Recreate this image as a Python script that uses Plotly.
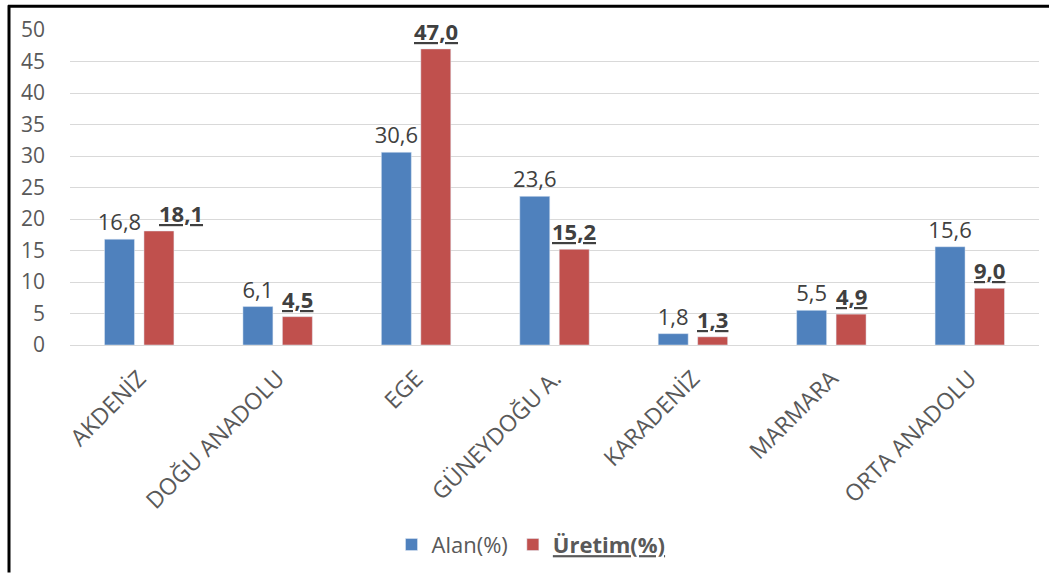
import plotly.graph_objects as go

categories = ["AKDENİZ", "DOĞU ANADOLU", "EGE", "GÜNEYDOĞU A.", "KARADENİZ", "MARMARA", "ORTA ANADOLU"]
alan = [16.8, 6.1, 30.6, 23.6, 1.8, 5.5, 15.6]
uretim = [18.1, 4.5, 47.0, 15.2, 1.3, 4.9, 9.0]
y_ticks = [0, 5, 10, 15, 20, 25, 30, 35, 40, 45, 50]

# extra horizontal nudge (px) of the Üretim labels, as in the reference
uretim_label_nudge = [22, 0, 0, 0, 0, 0, 0]

def fmt(v):
    return f"{v:.1f}".replace(".", ",")

W, H = 1049, 576
ml, mr, mt, mb = 70, 10, 30, 229
pw, ph = W - ml - mr, H - mt - mb
bargap, bargroupgap = 0.43, 0.24
cat_w = pw / len(categories)
half_slot = cat_w * (1 - bargap) / 4  # offset of each bar center from category center

fig = go.Figure()
fig.add_trace(go.Bar(
    name="Alan(%)", x=categories, y=alan, marker_color="#4F81BD",
    text=[fmt(v) for v in alan], textposition="outside", constraintext="none",
    textfont=dict(size=22, color="#404040", family="Open Sans"),
    cliponaxis=False,
))
fig.add_trace(go.Bar(
    name="<b><u>Üretim(%)</u></b>", x=categories, y=uretim, marker_color="#C0504D",
    cliponaxis=False,
))

annotations = []
for c, v, n in zip(categories, uretim, uretim_label_nudge):
    annotations.append(dict(
        x=c, y=v, xref="x", yref="y", text=f"<b><u>{fmt(v)}</u></b>",
        showarrow=False, xanchor="center", yanchor="bottom",
        xshift=half_slot + n, yshift=1,
        font=dict(size=22, color="#404040", family="Open Sans"),
    ))

def px(x):
    return (x - ml) / pw

def py(y):
    return (H - mb - y) / ph

fig.update_layout(
    width=W, height=H,
    margin=dict(l=ml, r=mr, t=mt, b=mb),
    paper_bgcolor="white", plot_bgcolor="white",
    barmode="group", bargap=bargap, bargroupgap=bargroupgap,
    font=dict(family="Open Sans", color="#595959"),
    showlegend=True,
    legend=dict(orientation="h", x=px(531), xanchor="center", y=py(548), yanchor="middle",
                font=dict(size=22, color="#595959"), traceorder="normal"),
    xaxis=dict(tickangle=-45, tickfont=dict(size=23, color="#595959"), showgrid=False,
               showline=True, linecolor="#D9D9D9", linewidth=1, ticks="",
               ticklabelstandoff=10),
    yaxis=dict(range=[0, 50], tickvals=y_ticks, tickfont=dict(size=21, color="#595959"),
               showgrid=True, gridcolor="#D9D9D9", gridwidth=1, zeroline=False, ticks="",
               ticklabelstandoff=24),
    annotations=annotations,
    shapes=[
        dict(type="line", xref="paper", yref="paper", x0=px(8), x1=px(1049), y0=py(6), y1=py(6),
             line=dict(color="black", width=3)),
        dict(type="line", xref="paper", yref="paper", x0=px(9), x1=px(9), y0=py(5), y1=py(576),
             line=dict(color="black", width=3)),
    ],
)

fig.write_html("out.html", config={"displayModeBar": False},
               post_script="document.body.style.margin='0';document.body.style.overflow='hidden';")
